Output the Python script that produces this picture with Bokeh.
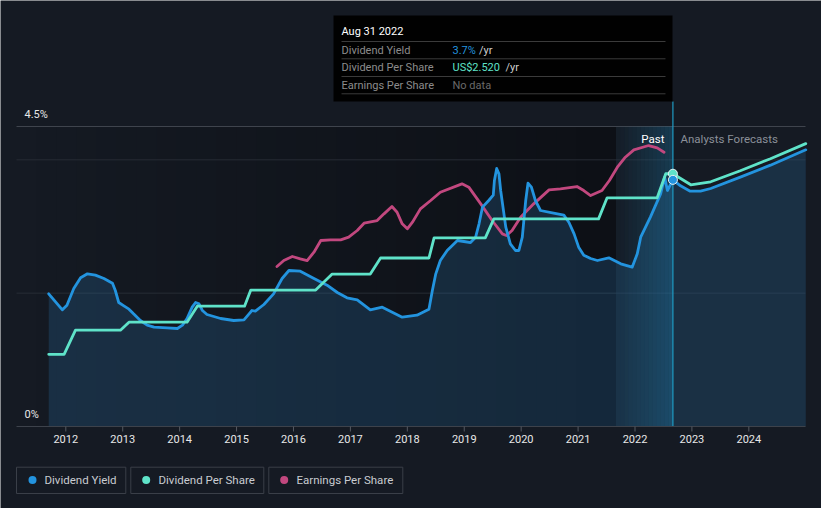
from bokeh.plotting import figure
from bokeh.models import Range1d
from bokeh.embed import file_html
from bokeh.resources import INLINE
from bokeh.core.properties import value

# ---------------- data ----------------
yield_years = [2011.70, 2011.82, 2011.94, 2012.02, 2012.14, 2012.26, 2012.38, 2012.52, 2012.67,
               2012.82, 2012.87, 2012.93, 2013.02, 2013.11, 2013.19, 2013.31, 2013.43, 2013.55,
               2013.78, 2013.96, 2014.05, 2014.13, 2014.22, 2014.28, 2014.34, 2014.40, 2014.48,
               2014.72, 2014.95, 2015.13, 2015.22, 2015.27, 2015.33, 2015.48, 2015.65, 2015.80,
               2015.92, 2016.12, 2016.36, 2016.59, 2016.77, 2016.94, 2017.12, 2017.35, 2017.56,
               2017.70, 2017.91, 2018.17, 2018.38, 2018.44, 2018.50, 2018.58, 2018.70, 2018.88,
               2019.11, 2019.20, 2019.26, 2019.32, 2019.43, 2019.51, 2019.53, 2019.57, 2019.61,
               2019.64, 2019.73, 2019.81, 2019.90, 2019.96, 2020.02, 2020.08, 2020.12, 2020.18,
               2020.25, 2020.34, 2020.57, 2020.75, 2020.84, 2020.93, 2021.01, 2021.10, 2021.22,
               2021.34, 2021.54, 2021.75, 2021.95, 2022.04, 2022.10, 2022.27, 2022.45, 2022.52,
               2022.57, 2022.666, 2022.80, 2022.97, 2023.15, 2023.33, 2023.85, 2024.38, 2025.00]
dividend_yield = [1.99, 1.87, 1.75, 1.82, 2.07, 2.23, 2.29, 2.27, 2.22,
                  2.15, 2.04, 1.86, 1.81, 1.76, 1.69, 1.59, 1.52, 1.49,
                  1.48, 1.47, 1.52, 1.62, 1.79, 1.86, 1.84, 1.74, 1.68,
                  1.62, 1.59, 1.60, 1.69, 1.74, 1.73, 1.83, 1.99, 2.22,
                  2.34, 2.33, 2.22, 2.12, 2.01, 1.93, 1.90, 1.75, 1.79,
                  1.73, 1.64, 1.67, 1.76, 2.04, 2.29, 2.49, 2.64, 2.79,
                  2.76, 2.84, 3.04, 3.29, 3.39, 3.47, 3.69, 3.87, 3.79,
                  3.54, 2.99, 2.74, 2.64, 2.64, 2.84, 3.39, 3.65, 3.59,
                  3.39, 3.24, 3.20, 3.17, 3.06, 2.89, 2.69, 2.57, 2.52,
                  2.49, 2.53, 2.44, 2.39, 2.59, 2.84, 3.14, 3.49, 3.74,
                  3.54, 3.70, 3.61, 3.53, 3.53, 3.57, 3.74, 3.92, 4.15]

dps_years = [2011.70, 2011.97, 2012.17, 2012.96, 2013.11, 2014.13, 2014.31, 2015.14, 2015.25,
             2016.39, 2016.68, 2017.35, 2017.53, 2018.38, 2018.47, 2019.37, 2019.52, 2021.36,
             2021.51, 2022.39, 2022.54, 2022.666, 2022.98, 2023.33, 2023.85, 2024.38, 2025.00]
dividend_per_share = [0.72, 0.72, 0.96, 0.96, 1.04, 1.04, 1.20, 1.20, 1.36,
                      1.36, 1.52, 1.52, 1.68, 1.68, 1.88, 1.88, 2.07, 2.07,
                      2.28, 2.28, 2.52, 2.52, 2.41, 2.44, 2.55, 2.67, 2.82]

eps_years = [2015.71, 2015.83, 2015.98, 2016.12, 2016.24, 2016.36, 2016.48, 2016.65, 2016.83,
             2016.97, 2017.12, 2017.24, 2017.47, 2017.59, 2017.73, 2017.82, 2017.91, 2018.00,
             2018.09, 2018.23, 2018.41, 2018.58, 2018.96, 2019.08, 2019.29, 2019.49, 2019.67,
             2019.74, 2019.84, 2019.99, 2020.22, 2020.49, 2020.69, 2020.98, 2021.10, 2021.22,
             2021.42, 2021.55, 2021.69, 2021.83, 2021.98, 2022.24, 2022.39, 2022.51]
earnings_per_share = [4.80, 4.98, 5.10, 5.03, 4.98, 5.23, 5.58, 5.60, 5.60,
                      5.68, 5.88, 6.10, 6.18, 6.38, 6.60, 6.43, 6.08, 5.93,
                      6.13, 6.53, 6.78, 7.03, 7.28, 7.18, 6.68, 6.18, 5.78,
                      5.73, 5.88, 6.28, 6.68, 7.10, 7.13, 7.20, 7.08, 6.93,
                      7.08, 7.38, 7.78, 8.08, 8.30, 8.43, 8.36, 8.23]

x_tick_years = list(range(2012, 2025))
x_tick_labels = [str(y) for y in x_tick_years]
y_label_values = [0.0, 4.5]
y_label_texts = ["0%", "4.5%"]
grid_values = [2.0, 4.0]

tooltip_year = 2022.666
tooltip_title = "Aug 31 2022"
tooltip_rows = ["Dividend Yield", "Dividend Per Share", "Earnings Per Share"]
tooltip_values = ["3.7%", "US$2.520", "No data"]
legend_names = ["Dividend Yield", "Dividend Per Share", "Earnings Per Share"]

# ---------------- style ----------------
BG = "#151a23"
C_YIELD = "#2394df"
C_DPS = "#5fe3c9"
C_EPS = "#c2487f"
FONT = value("Roboto")

W, H = 821, 508
PX0, YEAR0, PX_PER_YEAR = 65.3, 2012.0, 56.92
BASE_PY, PX_PER_PCT = 426.0, 66.667
PX_PER_DOLLAR_DPS = 100.3
PX_PER_DOLLAR_EPS = 33.33


def X(px):
    return YEAR0 + (px - PX0) / PX_PER_YEAR


def Y(py):
    return (BASE_PY - py) / PX_PER_PCT


p = figure(width=W, height=H, x_range=Range1d(X(0), X(W)), y_range=Range1d(Y(H), Y(0)),
           min_border=0, toolbar_location=None, output_backend="svg",
           x_axis_location=None, y_axis_location=None,
           background_fill_color=BG, border_fill_color=BG, outline_line_color=None)
p.xgrid.visible = False
p.ygrid.visible = False

k_dps = PX_PER_PCT / PX_PER_DOLLAR_DPS
k_eps = PX_PER_PCT / PX_PER_DOLLAR_EPS
p.extra_y_ranges = {
    "dps": Range1d(Y(H) * k_dps, Y(0) * k_dps),
    "eps": Range1d(Y(H) * k_eps, Y(0) * k_eps),
}

plot_left, plot_right = X(16), X(805)
plot_top = 4.5
band_left = tooltip_year - 1.0

# past-region darkening gradient
n = 30
for i in range(n):
    l = plot_left + (band_left - plot_left) * i / n
    r = plot_left + (band_left - plot_left) * (i + 1) / n
    p.quad(left=[l], right=[r], top=[plot_top], bottom=[0], fill_color="#000000",
           fill_alpha=0.36 * i / (n - 1), line_color=None)

# grid lines
p.segment(x0=[plot_left] * len(grid_values), x1=[plot_right] * len(grid_values),
          y0=grid_values, y1=grid_values, line_color="#272c35", line_width=1)
p.segment(x0=[plot_left], x1=[plot_right], y0=[plot_top], y1=[plot_top],
          line_color="#40454e", line_width=1)

# yield area
p.varea(x=yield_years, y1=[0] * len(yield_years), y2=dividend_yield,
        fill_color="#2a6fa8", fill_alpha=0.26)

# past band (last 12 months) gradient
m = 14
for i in range(m):
    l = band_left + (tooltip_year - band_left) * i / m
    r = band_left + (tooltip_year - band_left) * (i + 1) / m
    p.quad(left=[l], right=[r], top=[plot_top], bottom=[0], fill_color="#1f9bd6",
           fill_alpha=0.03 + 0.22 * i / (m - 1), line_color=None)

# vertical marker line
p.segment(x0=[tooltip_year], x1=[tooltip_year], y0=[0], y1=[Y(101)],
          line_color="#1f9cc4", line_width=1.2)

# axis line and ticks
p.segment(x0=[plot_left], x1=[plot_right], y0=[0], y1=[0], line_color="#3d424b", line_width=1)
p.segment(x0=x_tick_years, x1=x_tick_years, y0=[0] * len(x_tick_years),
          y1=[Y(431)] * len(x_tick_years), line_color="#555a62", line_width=1)
p.text(x=x_tick_years, y=[Y(438)] * len(x_tick_years), text=x_tick_labels,
       text_font=FONT, text_font_size=value("11px"), text_color="#e8e8e8",
       text_align="center", text_baseline="middle")

# y labels
p.text(x=[X(24)] * 2, y=[v + Y(414) for v in y_label_values], text=y_label_texts,
       text_font=FONT, text_font_size=value("11px"), text_color="#e8e8e8",
       text_align="left", text_baseline="middle")

# lines
p.line(eps_years, earnings_per_share, y_range_name="eps", line_color=C_EPS,
       line_width=2.8, line_join="round", line_cap="round")
p.line(yield_years, dividend_yield, line_color=C_YIELD, line_width=2.8,
       line_join="round", line_cap="round")
p.line(dps_years, dividend_per_share, y_range_name="dps", line_color=C_DPS,
       line_width=2.8, line_join="round", line_cap="round")

# markers at tooltip date
ti = yield_years.index(tooltip_year)
di = dps_years.index(tooltip_year)
p.scatter([tooltip_year], [dividend_per_share[di]], y_range_name="dps", size=9,
          fill_color=C_DPS, line_color="#e8f4f4", line_width=1)
p.scatter([tooltip_year], [dividend_yield[ti]], size=9,
          fill_color=C_YIELD, line_color="#e8f4f4", line_width=1)

# Past / Analysts Forecasts labels
p.text(x=[X(664)], y=[Y(138)], text=["Past"], text_font=FONT, text_font_size=value("11.5px"),
       text_color="#ffffff", text_align="right", text_baseline="middle")
p.text(x=[X(680)], y=[Y(138)], text=["Analysts Forecasts"], text_font=FONT,
       text_font_size=value("11.5px"), text_color="#8b9099", text_align="left",
       text_baseline="middle")

# tooltip box
p.quad(left=[X(333)], right=[X(672)], top=[Y(15)], bottom=[Y(101)],
       fill_color="#000000", fill_alpha=0.95, line_color=None)
p.text(x=[X(341)], y=[Y(31)], text=[tooltip_title], text_font=FONT,
       text_font_size=value("11px"), text_color="#ffffff", text_align="left",
       text_baseline="middle")
sep_py = [41, 58.3, 76, 93.3]
p.segment(x0=[X(341)] * 4, x1=[X(665)] * 4, y0=[Y(v) for v in sep_py],
          y1=[Y(v) for v in sep_py], line_color="#3b3b3b", line_width=1)
row_py = [49.5, 67, 84.5]
p.text(x=[X(341)] * 3, y=[Y(v) for v in row_py], text=tooltip_rows, text_font=FONT,
       text_font_size=value("11px"), text_color="#8c8c8c", text_align="left",
       text_baseline="middle")
p.text(x=[X(452)] * 3, y=[Y(v) for v in row_py], text=tooltip_values, text_font=FONT,
       text_font_size=value("11px"), text_color=[C_YIELD, C_DPS, "#6a6a6a"],
       text_align="left", text_baseline="middle")
p.text(x=[X(478.5), X(505)], y=[Y(row_py[0]), Y(row_py[1])], text=["/yr", "/yr"],
       text_font=FONT, text_font_size=value("11px"), text_color="#cfcfcf",
       text_align="left", text_baseline="middle")

# legend
box_l = [16, 130.3, 268.3]
box_r = [125.3, 263.3, 402.3]
dot_x = [32, 145.7, 283.7]
txt_x = [44, 158, 296]
p.quad(left=[X(v) for v in box_l], right=[X(v) for v in box_r], top=[Y(466.7)] * 3,
       bottom=[Y(493)] * 3, fill_color=None, line_color="#3a3f48", line_width=1)
p.scatter([X(v) for v in dot_x], [Y(479.5)] * 3, size=8,
          fill_color=[C_YIELD, C_DPS, C_EPS], line_color=None)
p.text(x=[X(v) for v in txt_x], y=[Y(479.5)] * 3, text=legend_names, text_font=FONT,
       text_font_size=value("11.5px"), text_color="#c9ccd1", text_align="left",
       text_baseline="middle")

open("out.html", "w").write(file_html(p, INLINE))
